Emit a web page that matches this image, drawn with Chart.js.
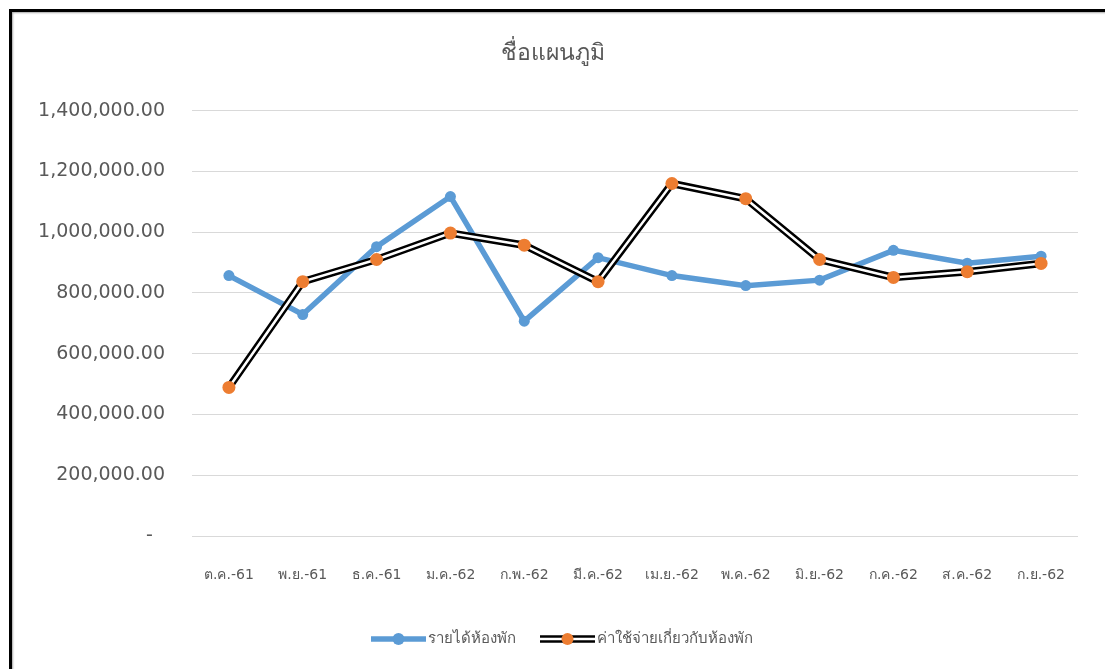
<!DOCTYPE html>
<html>
<head>
<meta charset="utf-8">
<script src="https://cdn.jsdelivr.net/npm/chart.js@4.4.1/dist/chart.umd.min.js"></script>
<style>
  html, body { margin:0; padding:0; background:#fff; overflow:hidden; }
  #wrap { position:relative; width:1105px; height:669px; }
  #frame { position:absolute; left:9px; top:9px; width:1200px; height:800px; border:3px solid #000; box-shadow: inset 1px 1px 2px rgba(0,0,0,.35); pointer-events:none; }
  canvas { position:absolute; left:0; top:0; }
</style>
</head>
<body>
<div id="wrap">
  <canvas id="chart" width="1105" height="669"></canvas>
  <div id="frame"></div>
</div>
<script>
// data
const months = ['ต.ค.-61','พ.ย.-61','ธ.ค.-61','ม.ค.-62','ก.พ.-62','มี.ค.-62','เม.ย.-62','พ.ค.-62','มิ.ย.-62','ก.ค.-62','ส.ค.-62','ก.ย.-62'];
const roomIncome  = [857000, 729000, 952000, 1117000, 707000, 916000, 857000, 824000, 842000, 940000, 898000, 921000];
const roomExpense = [489000, 837000, 910000, 997000, 957000, 837000, 1160000, 1110000, 910000, 851000, 870000, 897000];
const seriesNames = ['รายได้ห้องพัก', 'ค่าใช้จ่ายเกี่ยวกับห้องพัก'];
const yTicks = [0, 200000, 400000, 600000, 800000, 1000000, 1200000, 1400000];
const chartTitle = 'ชื่อแผนภูมิ';

const FONT = '"DejaVu Sans", "Noto Sans", sans-serif';
const GREY = '#595959';
const BLUE = '#5B9BD5', ORANGE = '#ED7D31';

function fmt(v){
  if (v === 0) return '-  ';
  return v.toLocaleString('en-US', {minimumFractionDigits:2, maximumFractionDigits:2});
}

// legend drawn under the axis like excel does (line sample with marker in the middle)
const excelLegend = {
  id: 'excelLegend',
  afterDraw(chart){
    const ctx = chart.ctx;
    const y = 639;
    const items = [
      { x:371, name:seriesNames[0], kind:'blue' },
      { x:540, name:seriesNames[1], kind:'double' },
    ];
    ctx.save();
    ctx.lineCap = 'butt';
    items.forEach(it => {
      const w = 55;
      if (it.kind === 'blue'){
        ctx.strokeStyle = BLUE; ctx.lineWidth = 5.5;
        ctx.beginPath(); ctx.moveTo(it.x, y); ctx.lineTo(it.x+w, y); ctx.stroke();
        ctx.fillStyle = BLUE;
      } else {
        ctx.strokeStyle = '#000'; ctx.lineWidth = 7.5;
        ctx.beginPath(); ctx.moveTo(it.x, y); ctx.lineTo(it.x+w, y); ctx.stroke();
        ctx.strokeStyle = '#fff'; ctx.lineWidth = 2.5;
        ctx.beginPath(); ctx.moveTo(it.x, y); ctx.lineTo(it.x+w, y); ctx.stroke();
        ctx.fillStyle = ORANGE;
      }
      ctx.beginPath(); ctx.arc(it.x + w/2, y, 6, 0, Math.PI*2); ctx.fill();
      ctx.fillStyle = GREY;
      ctx.font = '15px ' + FONT;
      ctx.textBaseline = 'middle';
      ctx.textAlign = 'left';
      ctx.fillText(it.name, it.x + w + 2, y);
    });
    ctx.restore();
  }
};

const chart = new Chart(document.getElementById('chart'), {
  type: 'line',
  data: {
    labels: months,
    datasets: [
      { label: seriesNames[0], data: roomIncome, borderColor: BLUE, borderWidth: 5.5,
        pointRadius: 5.5, pointBackgroundColor: BLUE, pointBorderWidth: 0, order: 3 },
      // outer black stroke of the double line
      { label: seriesNames[1] + ' outline', data: roomExpense, borderColor: '#000', borderWidth: 7.5,
        pointRadius: 0, order: 2 },
      { label: seriesNames[1], data: roomExpense, borderColor: '#fff', borderWidth: 2.5,
        pointRadius: 6.5, pointBackgroundColor: ORANGE, pointBorderColor: ORANGE, pointBorderWidth: 0, order: 1 },
    ]
  },
  options: {
    responsive: false,
    animation: false,
    devicePixelRatio: 1,
    layout: { padding: { left:0, right:0, top:0, bottom:0 } },
    plugins: {
      legend: { display:false },
      tooltip: { enabled:false },
      title: { display:true, text: chartTitle, color: GREY,
        font: { family: FONT, size: 23, weight: 'normal' },
        padding: { top: 40, bottom: 43 } },
    },
    scales: {
      x: {
        offset: true,
        grid: { display:false, drawTicks:false },
        border: { display:false },
        ticks: { color: GREY, font: { family: FONT, size: 14 }, padding: 31, maxRotation:0, autoSkip:false },
        afterFit: s => { s.height = 133; },
      },
      y: {
        min: 0, max: 1400000,
        afterBuildTicks: s => { s.ticks = yTicks.map(v => ({ value: v })); },
        grid: { color: '#d9d9d9', lineWidth: 1, drawTicks:false },
        border: { display:false },
        ticks: { color: GREY, font: { family: FONT, size: 19 }, padding: 27, callback: v => fmt(v) },
        afterFit: s => { s.width = 192; },
      },
      // empty right-hand margin so the title centres on the whole canvas
      yRight: {
        position: 'right', display: true, min: 0, max: 1400000,
        grid: { display:false, drawTicks:false }, border: { display:false },
        ticks: { display:false },
        afterFit: s => { s.width = 27; },
      }
    },
    elements: { line: { tension: 0 } }
  },
  plugins: [excelLegend]
});
</script>
</body>
</html>
